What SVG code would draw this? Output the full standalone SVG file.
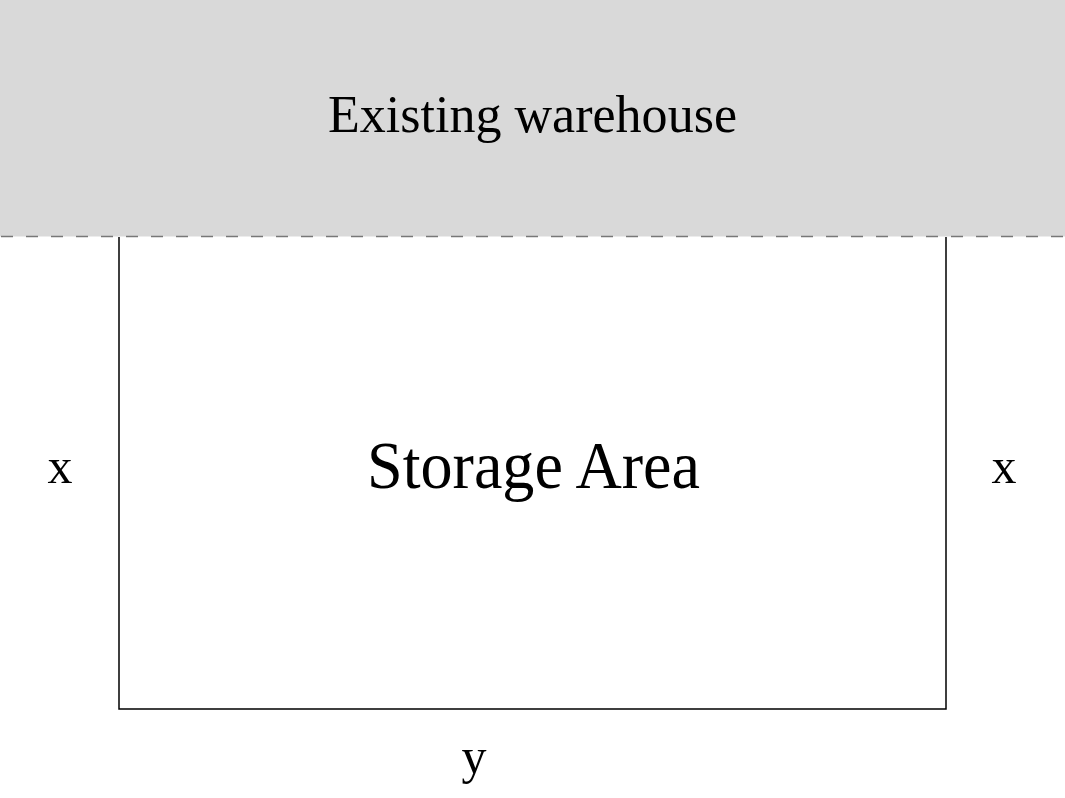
<svg xmlns="http://www.w3.org/2000/svg" width="1065" height="798" viewBox="0 0 1065 798">
<style>
.t{font-family:"Liberation Serif","DejaVu Serif",serif;fill:#000;text-anchor:middle}
.edge{fill:none;stroke:#000;stroke-width:1.5}
</style>
<rect x="0" y="0" width="1065" height="798" fill="#fff"/>
<g id="warehouse">
<rect x="0" y="0" width="1065" height="236.5" fill="#d9d9d9"/>
<line x1="1" y1="236.5" x2="1065" y2="236.5" stroke="#777" stroke-width="1.5" stroke-dasharray="12 13"/>
<text class="t" x="532.5" y="132" font-size="52" textLength="409" lengthAdjust="spacingAndGlyphs">Existing warehouse</text>
</g>
<g id="storage">
<text class="t" x="533.5" y="488" font-size="67" textLength="333" lengthAdjust="spacingAndGlyphs">Storage Area</text>
</g>
<g id="connectors">
<polyline class="edge" points="119,237 119,709 946,709 946,237"/>
</g>
<g id="labels">
<text class="t" x="60" y="483" font-size="50">x</text>
<text class="t" x="1004" y="483" font-size="50">x</text>
<text class="t" x="474" y="773" font-size="50">y</text>
</g>
</svg>
